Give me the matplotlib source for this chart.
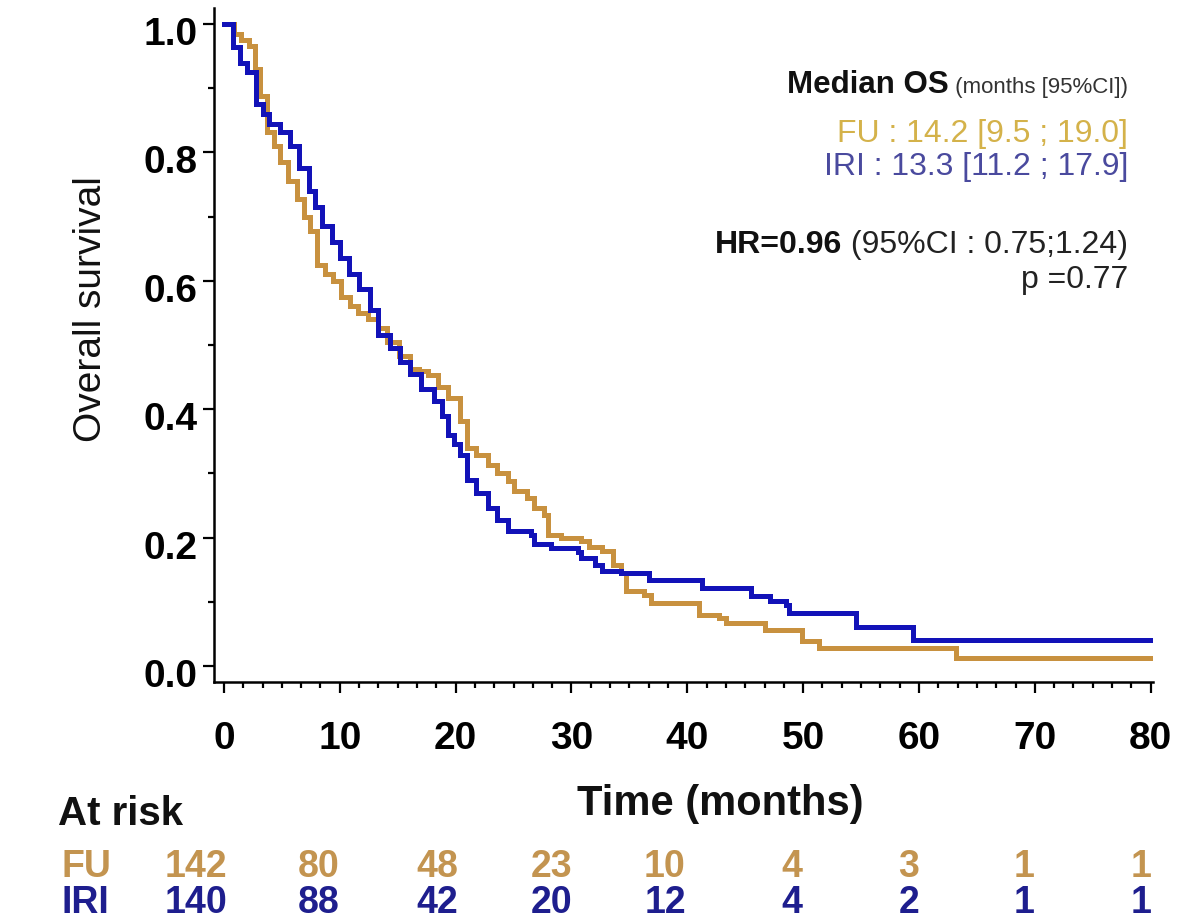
from __future__ import annotations

import matplotlib

matplotlib.use("Agg")
import matplotlib.pyplot as plt
from matplotlib.ticker import MultipleLocator
from matplotlib.transforms import ScaledTranslation

# Kaplan-Meier steps (months, survival)
FU_TIME = [0, 0.9, 1.5, 2.2, 2.7, 3.1, 3.7, 4.3, 4.8, 5.5, 6.3, 6.9, 7.4, 8.0, 8.7, 9.4, 10.1, 10.9, 11.6,
           12.4, 13.3, 14.1, 15.1, 16.1, 16.8, 17.6, 18.5, 19.3, 20.4, 21.0, 21.8, 22.8, 23.6, 24.5, 25.0,
           26.2, 26.8, 27.6, 28.0, 29.1, 30.8, 31.5, 32.6, 33.6, 34.3, 34.7, 36.3, 36.9, 41.0, 42.7, 43.3,
           46.7, 49.9, 51.4, 63.2, 80]
FU_SURV = [1.0, 0.985, 0.975, 0.966, 0.93, 0.888, 0.832, 0.81, 0.785, 0.755, 0.728, 0.70, 0.677, 0.624,
           0.61, 0.599, 0.575, 0.561, 0.55, 0.541, 0.526, 0.505, 0.483, 0.463, 0.46, 0.453, 0.435, 0.417,
           0.381, 0.339, 0.328, 0.313, 0.30, 0.288, 0.272, 0.262, 0.246, 0.235, 0.204, 0.20, 0.194, 0.186,
           0.179, 0.157, 0.145, 0.117, 0.110, 0.098, 0.079, 0.075, 0.067, 0.056, 0.039, 0.028, 0.012, 0.012]

IRI_TIME = [0, 0.8, 1.4, 2.0, 2.8, 3.4, 3.9, 4.8, 5.7, 6.5, 7.3, 7.9, 8.5, 9.3, 10.0, 10.8, 11.7, 12.6,
            13.3, 14.3, 15.2, 16.1, 17.0, 18.1, 18.8, 19.3, 19.9, 20.4, 21.0, 21.8, 22.8, 23.6, 24.5, 26.5,
            26.8, 28.2, 30.6, 30.8, 32.0, 32.6, 34.3, 36.7, 41.3, 45.5, 47.1, 48.5, 48.8, 54.6, 59.5, 80]
IRI_SURV = [1.0, 0.965, 0.94, 0.925, 0.875, 0.86, 0.845, 0.832, 0.81, 0.775, 0.74, 0.715, 0.685, 0.66,
            0.635, 0.61, 0.588, 0.555, 0.515, 0.495, 0.474, 0.455, 0.432, 0.412, 0.39, 0.36, 0.345, 0.328,
            0.29, 0.27, 0.246, 0.228, 0.21, 0.204, 0.19, 0.184, 0.178, 0.168, 0.157, 0.148, 0.145, 0.134,
            0.121, 0.109, 0.101, 0.095, 0.082, 0.060, 0.040, 0.040]

RISK_TIMES = [0, 10, 20, 30, 40, 50, 60, 70, 80]
Y_TICKS = [0.0, 0.2, 0.4, 0.6, 0.8, 1.0]
FU_AT_RISK = [142, 80, 48, 23, 10, 4, 3, 1, 1]
IRI_AT_RISK = [140, 88, 42, 20, 12, 4, 2, 1, 1]

FU_COLOR = "#C8913F"
IRI_COLOR = "#1212B8"
FONT = "Liberation Sans"

W, H = 1185, 922


def _fx(px):
    return px / W


def _fy(py):
    return 1 - py / H


def _draw_curves(fig, ax):
    ax.step(FU_TIME, FU_SURV, where="post", color=FU_COLOR, linewidth=3.6, solid_joinstyle="miter")
    ax.step(IRI_TIME, IRI_SURV, where="post", color=IRI_COLOR, linewidth=3.6, solid_joinstyle="miter")
    ax.set_xlim(-0.86, 80.2)
    ax.set_ylim(-0.025, 1.025)
    for side in ("top", "right"):
        ax.spines[side].set_visible(False)
    for side in ("left", "bottom"):
        ax.spines[side].set_linewidth(1.8)
    ax.set_xticks(RISK_TIMES)
    ax.set_yticks(Y_TICKS)
    ax.set_yticklabels([f"{v:.1f}" for v in Y_TICKS])
    ax.xaxis.set_minor_locator(MultipleLocator(10 / 6))
    ax.yaxis.set_minor_locator(MultipleLocator(0.1))
    ax.tick_params(which="major", direction="out", length=8, width=1.6, labelsize=28, pad=4)
    ax.tick_params(which="minor", direction="out", length=4, width=1.6)
    ax.tick_params(axis="x", pad=20)
    for lab in ax.get_xticklabels() + ax.get_yticklabels():
        lab.set_fontweight("bold")
        lab.set_family(FONT)
    # labels on the y axis sit a little below their ticks in the original
    shift = ScaledTranslation(0, -0.07, fig.dpi_scale_trans)
    for lab in ax.get_yticklabels():
        lab.set_transform(lab.get_transform() + shift)


def _right_pair(fig, renderer, x, y, left, right, left_kw, right_kw):
    t = fig.text(x, y, right, ha="right", va="baseline", family=FONT, **right_kw)
    bb = t.get_window_extent(renderer)
    fig.text(bb.x0 / fig.bbox.width, y, left, ha="right", va="baseline", family=FONT, **left_kw)


def _draw_text(fig):
    renderer = fig.canvas.get_renderer()
    xr = _fx(1128)
    _right_pair(fig, renderer, xr, _fy(93), "Median OS", " (months [95%CI])",
                dict(fontsize=22.5, fontweight="bold", color="#111111"),
                dict(fontsize=16, color="#333333"))
    fig.text(xr, _fy(142), "FU : 14.2 [9.5 ; 19.0]", ha="right", va="baseline", family=FONT,
             fontsize=23, color="#D4B24A")
    fig.text(xr, _fy(175), "IRI : 13.3 [11.2 ; 17.9]", ha="right", va="baseline", family=FONT,
             fontsize=23, color="#4A4A9E")
    _right_pair(fig, renderer, xr, _fy(253), "HR=0.96", " (95%CI : 0.75;1.24)",
                dict(fontsize=23, fontweight="bold", color="#111111"),
                dict(fontsize=23, color="#222222"))
    fig.text(xr, _fy(288), "p =0.77", ha="right", va="baseline", family=FONT, fontsize=23, color="#222222")

    fig.text(_fx(91), _fy(309), "Overall survival", rotation=90, ha="center", va="center", family=FONT,
             fontsize=28, color="#111111")
    fig.text(_fx(720), _fy(815), "Time (months)", ha="center", va="baseline", family=FONT,
             fontsize=30, fontweight="bold", color="#111111")

    fig.text(_fx(58), _fy(825), "At risk", ha="left", va="baseline", family=FONT,
             fontsize=29, fontweight="bold", color="#111111")
    fig.text(_fx(62), _fy(877), "FU", ha="left", va="baseline", family=FONT,
             fontsize=27, fontweight="bold", color="#C39450")
    fig.text(_fx(62), _fy(913), "IRI", ha="left", va="baseline", family=FONT,
             fontsize=27, fontweight="bold", color="#1E1E8E")
    columns = [196, 319, 437, 552, 665, 792, 909, 1024, 1141]
    for cx, fu, iri in zip(columns, FU_AT_RISK, IRI_AT_RISK):
        fig.text(_fx(cx), _fy(877), str(fu), ha="center", va="baseline", family=FONT,
                 fontsize=27, fontweight="bold", color="#C39450")
        fig.text(_fx(cx), _fy(913), str(iri), ha="center", va="baseline", family=FONT,
                 fontsize=27, fontweight="bold", color="#1E1E8E")


def main():
    fig = plt.figure(figsize=(W / 100, H / 100), dpi=100)
    ax = fig.add_axes([_fx(214), _fy(682), _fx(1153) - _fx(214), _fy(8) - _fy(682)])
    _draw_curves(fig, ax)
    _draw_text(fig)
    fig.savefig("out.png", dpi=100)
    plt.close(fig)


if __name__ == "__main__":
    main()
